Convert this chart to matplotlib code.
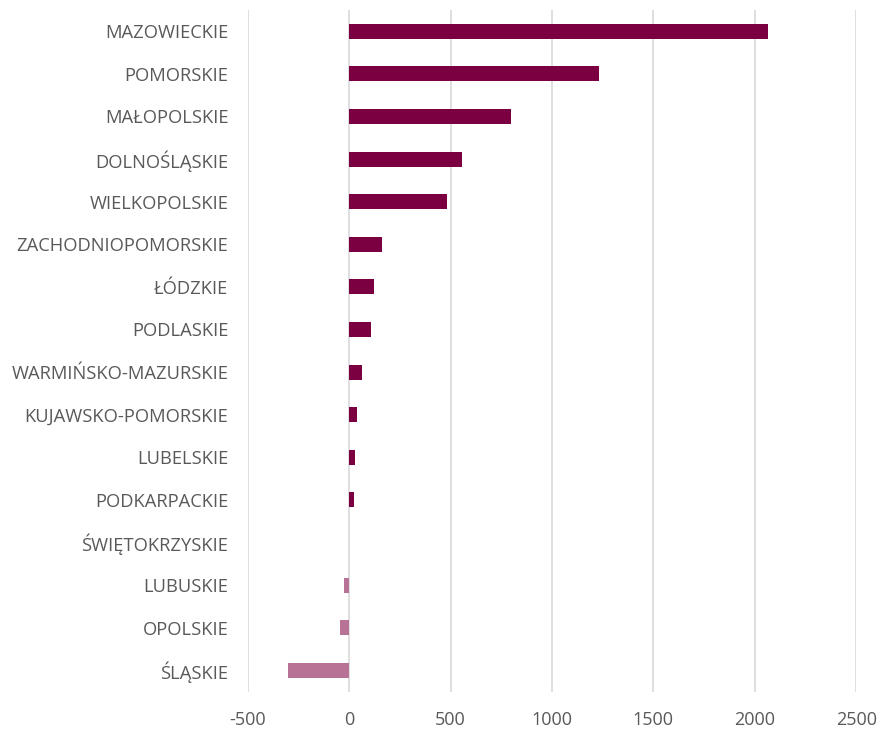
import matplotlib
matplotlib.use('Agg')
import matplotlib.pyplot as plt

# Regional values, top to bottom
regions = ['MAZOWIECKIE', 'POMORSKIE', 'MAŁOPOLSKIE', 'DOLNOŚLĄSKIE', 'WIELKOPOLSKIE',
           'ZACHODNIOPOMORSKIE', 'ŁÓDZKIE', 'PODLASKIE', 'WARMIŃSKO-MAZURSKIE',
           'KUJAWSKO-POMORSKIE', 'LUBELSKIE', 'PODKARPACKIE', 'ŚWIĘTOKRZYSKIE',
           'LUBUSKIE', 'OPOLSKIE', 'ŚLĄSKIE']
values = [2065, 1231, 797, 557, 483, 160, 120, 105, 61, 38, 28, 22, 0, -25, -44, -301]
xticks = [-500, 0, 500, 1000, 1500, 2000, 2500]

pos_color = '#7B0041'
neg_color = '#B87296'
text_color = '#595959'
font = 'Open Sans'

fig = plt.figure(figsize=(8.79, 7.29), dpi=100)
ax = fig.add_axes([0.282, 0.0512, 0.692, 0.9352])

ypos = list(range(len(regions)))
colors = [pos_color if v >= 0 else neg_color for v in values]
ax.barh(ypos, values, height=0.35, color=colors, zorder=3)

ax.set_xlim(-500, 2500)
ax.set_ylim(len(regions) - 0.5, -0.5)
ax.set_xticks(xticks)
ax.set_xticklabels([str(t) for t in xticks], fontsize=13, color=text_color, family=font)
ax.set_yticks(ypos)
ax.set_yticklabels(regions, fontsize=13.2, color=text_color, family=font)
ax.tick_params(axis='both', length=0)
ax.tick_params(axis='x', pad=14)
ax.tick_params(axis='y', pad=14)

ax.grid(axis='x', color='#D9D9D9', linewidth=1.2, zorder=0)
for s in ax.spines.values():
    s.set_visible(False)

fig.savefig('out.png', dpi=100, facecolor='white')
